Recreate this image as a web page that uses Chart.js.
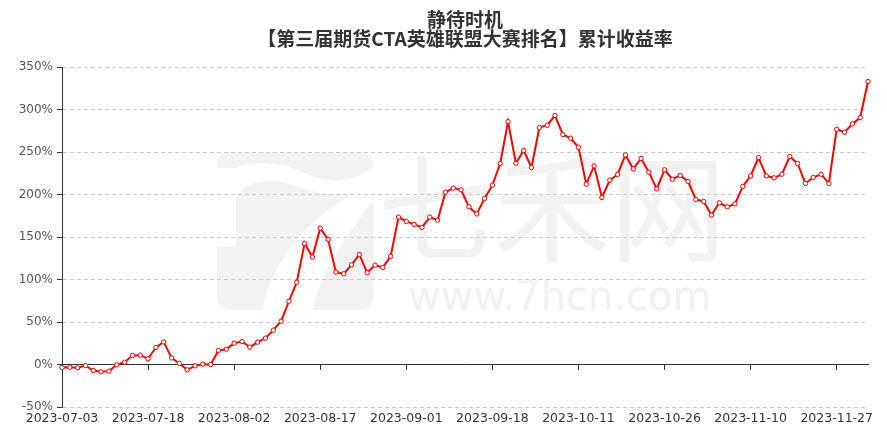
<!DOCTYPE html>
<html>
<head>
<meta charset="utf-8">
<title>静待时机 累计收益率</title>
<script src="https://cdn.jsdelivr.net/npm/chart.js@4.4.0/dist/chart.umd.min.js"></script>
<style>
    html, body { margin: 0; padding: 0; background: #fff; }
    canvas { display: block; }
</style>
</head>
<body>
<canvas id="myChart" width="887" height="433"></canvas>
<script>
const titleLines = ['静待时机', '【第三届期货CTA英雄联盟大赛排名】累计收益率'];

// trading days
const dates = [
    '2023-07-03', '2023-07-04', '2023-07-05', '2023-07-06', '2023-07-07', '2023-07-10', '2023-07-11', '2023-07-12',
    '2023-07-13', '2023-07-14', '2023-07-17', '2023-07-18', '2023-07-19', '2023-07-20', '2023-07-21', '2023-07-24',
    '2023-07-25', '2023-07-26', '2023-07-27', '2023-07-28', '2023-07-31', '2023-08-01', '2023-08-02', '2023-08-03',
    '2023-08-04', '2023-08-07', '2023-08-08', '2023-08-09', '2023-08-10', '2023-08-11', '2023-08-14', '2023-08-15',
    '2023-08-16', '2023-08-17', '2023-08-18', '2023-08-21', '2023-08-22', '2023-08-23', '2023-08-24', '2023-08-25',
    '2023-08-28', '2023-08-29', '2023-08-30', '2023-08-31', '2023-09-01', '2023-09-04', '2023-09-05', '2023-09-06',
    '2023-09-07', '2023-09-08', '2023-09-11', '2023-09-12', '2023-09-13', '2023-09-14', '2023-09-15', '2023-09-18',
    '2023-09-19', '2023-09-20', '2023-09-21', '2023-09-22', '2023-09-25', '2023-09-26', '2023-09-27', '2023-09-28',
    '2023-10-09', '2023-10-10', '2023-10-11', '2023-10-12', '2023-10-13', '2023-10-16', '2023-10-17', '2023-10-18',
    '2023-10-19', '2023-10-20', '2023-10-23', '2023-10-24', '2023-10-25', '2023-10-26', '2023-10-27', '2023-10-30',
    '2023-10-31', '2023-11-01', '2023-11-02', '2023-11-03', '2023-11-06', '2023-11-07', '2023-11-08', '2023-11-09',
    '2023-11-10', '2023-11-13', '2023-11-14', '2023-11-15', '2023-11-16', '2023-11-17', '2023-11-20', '2023-11-21',
    '2023-11-22', '2023-11-23', '2023-11-24', '2023-11-27', '2023-11-28', '2023-11-29', '2023-11-30', '2023-12-01'
];

// cumulative return, %
const returns = [
    -3.5, -3.1, -3.9, -1.2, -7.1, -8.6, -7.8, -0.4, 2.7, 10.6,
    11.0, 6.7, 20.0, 26.6, 7.8, 1.2, -6.3, -1.6, 0.4, 0.0,
    16.5, 18.0, 25.1, 27.0, 20.4, 26.3, 31.0, 40.4, 50.9, 74.4,
    96.8, 142.5, 126.4, 160.4, 147.2, 108.7, 106.7, 117.3, 129.5, 107.9,
    116.9, 114.2, 127.2, 173.4, 168.3, 164.8, 161.3, 173.4, 169.8, 202.8,
    207.5, 205.5, 185.5, 177.2, 195.3, 211.0, 236.5, 285.8, 236.8, 251.8,
    231.8, 278.8, 281.5, 292.9, 270.6, 266.2, 255.6, 212.2, 233.7, 196.5,
    216.9, 223.6, 246.6, 230.1, 242.4, 226.3, 206.6, 229.0, 218.0, 222.4,
    215.3, 194.2, 191.8, 175.7, 190.2, 185.5, 189.0, 209.5, 221.9, 243.5,
    221.9, 219.6, 223.9, 244.7, 236.5, 213.0, 220.0, 223.9, 213.0, 276.8,
    273.3, 283.0, 290.5, 332.9
];

const yMin = -50;
const yMax = 350;
const yStep = 50;
const labelEvery = 11;

const keepEvery = (axis) => {
    axis.ticks = axis.ticks.filter((t, i) => i % labelEvery === 0);
};

// white background + faint site watermark
const backdrop = {
    id: 'backdrop',
    beforeDraw(chart) {
        const ctx = chart.ctx;
        ctx.save();
        ctx.fillStyle = '#fff';
        ctx.fillRect(0, 0, chart.width, chart.height);

        ctx.fillStyle = '#f2f2f2';
        ctx.beginPath();
        ctx.roundRect(217, 152, 156, 158, 13);
        ctx.fill();

        ctx.fillStyle = '#fff';
        ctx.beginPath();
        ctx.moveTo(216, 168);
        ctx.lineTo(236, 168);
        ctx.bezierCurveTo(258, 159, 282, 163, 302, 172);
        ctx.bezierCurveTo(322, 181, 348, 188, 374, 166);
        ctx.lineTo(374, 189);
        ctx.bezierCurveTo(350, 199, 320, 195, 296, 186);
        ctx.bezierCurveTo(270, 177, 245, 181, 236, 198);
        ctx.lineTo(236, 247);
        ctx.lineTo(216, 247);
        ctx.closePath();
        ctx.fill();

        ctx.beginPath();
        ctx.moveTo(350, 196);
        ctx.lineTo(374, 189);
        ctx.lineTo(374, 200);
        ctx.bezierCurveTo(342, 240, 318, 280, 313, 311);
        ctx.lineTo(262, 311);
        ctx.bezierCurveTo(270, 268, 300, 224, 350, 196);
        ctx.closePath();
        ctx.fill();

        ctx.fillStyle = '#f2f2f2';
        ctx.font = '116px "Noto Sans CJK SC"';
        ctx.textAlign = 'center';
        ctx.textBaseline = 'middle';
        ctx.fillText('七禾网', 552, 208);
        ctx.font = '40px "DejaVu Sans"';
        ctx.textAlign = 'left';
        ctx.textBaseline = 'alphabetic';
        ctx.fillText('www.7hcn.com', 408, 310);
        ctx.restore();
    }
};

const titleText = {
    id: 'titleText',
    afterDraw(chart) {
        const ctx = chart.ctx;
        ctx.save();
        ctx.fillStyle = '#333';
        ctx.font = 'bold 19px "Noto Sans CJK SC"';
        ctx.textAlign = 'center';
        ctx.textBaseline = 'middle';
        ctx.fillText(titleLines[0], 465, 20);
        ctx.fillText(titleLines[1], 465, 38.5);
        ctx.restore();
    }
};

const ctx = document.getElementById('myChart').getContext('2d');
const chart = new Chart(ctx, {
    type: 'line',
    data: {
        labels: dates,
        datasets: [{
            label: '累计收益率',
            data: returns,
            xAxisID: 'x',
            yAxisID: 'y',
            borderColor: '#ff0000',
            borderWidth: 2,
            tension: 0,
            pointRadius: 2.2,
            pointBorderWidth: 1,
            pointBackgroundColor: '#fff',
            pointBorderColor: '#ff0000'
        }]
    },
    options: {
        responsive: false,
        animation: false,
        layout: { padding: { top: 67, right: 19, bottom: 0, left: 0 } },
        plugins: {
            legend: { display: false },
            title: { display: false },
            tooltip: { enabled: false }
        },
        scales: {
            x: {
                type: 'category',
                position: 'bottom',
                offset: false,
                afterBuildTicks: keepEvery,
                afterFit(scale) {
                    scale.height = 26;
                    scale.paddingLeft = 0;
                    scale.paddingRight = 0;
                },
                grid: { display: false, drawTicks: false },
                border: { display: false },
                ticks: {
                    autoSkip: false,
                    maxRotation: 0,
                    padding: 4,
                    color: '#333',
                    font: { family: 'DejaVu Sans', size: 12.5 }
                }
            },
            x0: {
                type: 'category',
                axis: 'x',
                position: { y: 0 },
                offset: false,
                afterBuildTicks: keepEvery,
                grid: {
                    display: true,
                    drawOnChartArea: false,
                    drawTicks: true,
                    tickLength: 5,
                    tickColor: '#333',
                    tickWidth: 1
                },
                border: { display: true, color: '#333', width: 1 },
                ticks: { display: false }
            },
            y: {
                type: 'linear',
                min: yMin,
                max: yMax,
                afterFit(scale) {
                    scale.width = 62;
                },
                grid: {
                    color: '#cccccc',
                    lineWidth: 1,
                    drawTicks: true,
                    tickLength: 5,
                    tickColor: '#333',
                    tickBorderDash: [],
                    z: -1
                },
                border: { display: true, color: '#333', width: 1, dash: [4, 3] },
                ticks: {
                    stepSize: yStep,
                    padding: 4,
                    color: '#555',
                    font: { family: 'DejaVu Sans', size: 12 },
                    callback: (v) => v + '%'
                }
            }
        }
    },
    plugins: [backdrop, titleText]
});
</script>
</body>
</html>
